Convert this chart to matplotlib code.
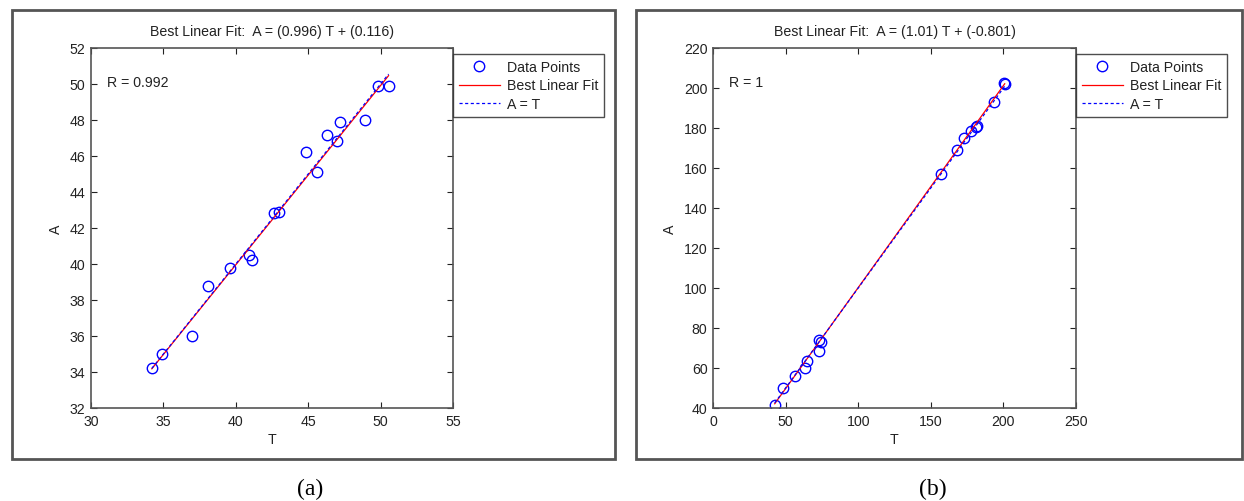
import matplotlib
matplotlib.use("Agg")
import matplotlib.pyplot as plt
import numpy as np
from matplotlib.patches import Rectangle

W, H = 1244, 502

# panel (a) data
t_a = [34.2, 34.9, 37.0, 38.1, 39.6, 40.9, 41.1, 42.65, 43.0, 44.85, 45.6, 46.3, 47.0, 47.2, 48.9, 49.8, 50.55]
a_a = [34.2, 35.0, 36.0, 38.8, 39.8, 40.5, 40.2, 42.85, 42.9, 46.2, 45.1, 47.15, 46.85, 47.9, 48.0, 49.9, 49.9]
fit_a = (0.996, 0.116)
r_a = "0.992"

# panel (b) data
t_b = [42.5, 48.3, 56.5, 63.2, 64.6, 72.8, 73.2, 74.2, 157.2, 168.0, 172.6, 177.6, 180.8, 181.8, 193.2, 200.5, 200.9]
a_b = [41.5, 50.0, 55.9, 59.9, 63.5, 68.7, 73.8, 73.0, 157.0, 168.9, 174.9, 178.4, 180.5, 180.9, 192.9, 202.3, 201.8]
fit_b = (1.01, -0.801)
r_b = "1"

plt.rcParams['font.family'] = ['Liberation Sans', 'DejaVu Sans']
FS = 10.2
fig = plt.figure(figsize=(W / 100, H / 100), dpi=100)


def fx(px):
    return px / W


def fy(py):
    return 1 - py / H


def frame(x1, y1, x2, y2):
    fig.patches.append(Rectangle((fx(x1), fy(y2)), fx(x2) - fx(x1), fy(y1) - fy(y2),
                                 transform=fig.transFigure, fill=False,
                                 edgecolor='#555555', linewidth=2))


def panel(left, right, t, a, fit, r, xlim, ylim, xticks, yticks, cap):
    ax = fig.add_axes([fx(left), fy(409), fx(right) - fx(left), fy(49) - fy(409)])
    m, b = fit
    tt = np.array([min(t), max(t)])
    ax.plot(t, a, 'o', mfc='none', mec='#0000ff', ms=7.5, mew=1, label='Data Points')
    ax.plot(tt, m * tt + b, color='#ff0000', lw=0.9, label='Best Linear Fit')
    ax.plot(tt, tt, color='#0000ff', lw=0.9, ls=(0, (2.5, 2)), label='A = T')
    ax.set_xlim(xlim)
    ax.set_ylim(ylim)
    ax.set_xticks(xticks)
    ax.set_yticks(yticks)
    ax.tick_params(direction='in', top=True, right=True, length=4, width=0.8,
                   labelsize=FS, colors='#222222', pad=4)
    for s in ax.spines.values():
        s.set_color('#555555')
        s.set_linewidth(1.2)
    ax.text(0.045, 0.905, "R = " + r, transform=ax.transAxes, fontsize=FS,
            ha='left', va='center', color='#222222')
    ax.set_xlabel('T', fontsize=FS, color='#222222', labelpad=3)
    ax.set_ylabel('A', fontsize=FS, color='#222222', labelpad=5)
    cx = (left + right) / 2
    fig.text(fx(cx), fy(32), "Best Linear Fit:  A = (%s) T + (%s)" % (m, b),
             ha='center', va='center', fontsize=FS, color='#222222')
    leg = ax.legend(loc='upper left', bbox_to_anchor=(fx(right), fy(55)),
                    bbox_transform=fig.transFigure, fontsize=FS, frameon=True,
                    fancybox=False, handlelength=2.9, handletextpad=0.5,
                    borderpad=0.42, labelspacing=0.32, borderaxespad=0)
    leg.get_frame().set_edgecolor('#222222')
    leg.get_frame().set_linewidth(1.0)
    for txt in leg.get_texts():
        txt.set_color('#222222')
    fig.text(fx(cx + 38), fy(489), cap, ha='center', va='center',
             fontsize=17, family='Liberation Serif', color='black')
    return ax


frame(12, 11, 615, 460)
frame(636, 11, 1242, 460)

panel(91, 453, t_a, a_a, fit_a, r_a, (30, 55), (32, 52),
      [30, 35, 40, 45, 50, 55], list(range(32, 53, 2)), '(a)')
panel(713, 1076, t_b, a_b, fit_b, r_b, (0, 250), (40, 220),
      [0, 50, 100, 150, 200, 250], list(range(40, 221, 20)), '(b)')

fig.savefig('out.png', dpi=100)
